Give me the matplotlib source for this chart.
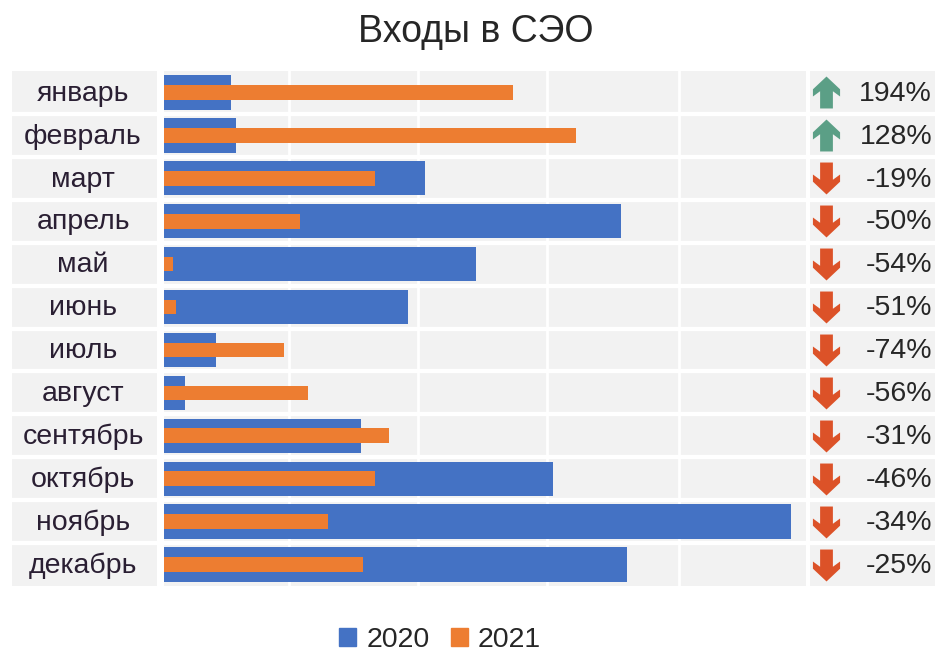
#!/usr/bin/env python3
"""Входы в СЭО: monthly bars, 2020 vs 2021, with change column."""

import matplotlib

matplotlib.use("Agg")
import matplotlib.pyplot as plt
import numpy as np
from matplotlib.path import Path

plt.rcParams["font.family"] = ["Liberation Sans", "DejaVu Sans"]

months = ["январь", "февраль", "март", "апрель", "май", "июнь",
          "июль", "август", "сентябрь", "октябрь", "ноябрь", "декабрь"]
values_2020 = [67, 72, 261, 457, 312, 244, 52, 21, 197, 389, 627, 463]
values_2021 = [349, 412, 211, 136, 9, 12, 120, 144, 225, 211, 164, 199]
changes = ["194%", "128%", "-19%", "-50%", "-54%", "-51%",
           "-74%", "-56%", "-31%", "-46%", "-34%", "-25%"]
grid_ticks = [125, 254, 383, 515]
series_years = ["2020", "2021"]

W, H = 939, 653
BLUE = "#4472c4"
ORANGE = "#ed7d31"
BAND = "#f2f2f2"
TEXT = "#262626"

ARROW_UP = Path([(0, 1), (0.85, 0.2), (0.85, -0.25), (0.4, 0.08), (0.4, -1),
                 (-0.4, -1), (-0.4, 0.08), (-0.85, -0.25), (-0.85, 0.2), (0, 1)], closed=True)
ARROW_DOWN = Path(ARROW_UP.vertices * [1, -1], closed=True)


def px_axes(fig, left, top, right, bottom):
    """Axes placed by pixel box of the reference image."""
    return fig.add_axes([left / W, 1 - bottom / H, (right - left) / W, (bottom - top) / H])


fig = plt.figure(figsize=(W / 100, H / 100), dpi=100, facecolor="white")
y = np.arange(len(months))

# Main bar panel
ax = px_axes(fig, 164, 71, 806, 586)
ax.set_facecolor(BAND)
ax.set_xlim(0, 642)
ax.set_ylim(len(months) - 0.5, -0.5)
for t in grid_ticks:
    ax.axvline(t, color="white", lw=2, zorder=1)
ax.barh(y, values_2020, height=0.8, color=BLUE, zorder=3)
ax.barh(y, values_2021, height=0.34, color=ORANGE, zorder=4)

# Month label column
ax_lab = px_axes(fig, 12, 71, 157, 586)
ax_lab.set_facecolor(BAND)
ax_lab.set_xlim(0, 1)
ax_lab.set_ylim(len(months) - 0.5, -0.5)
for i, m in enumerate(months):
    ax_lab.text(0.49, i + 0.03, m, ha="center", va="center", fontsize=20.5, color="#2a1f33")

# Change column with arrows
ax_chg = px_axes(fig, 810, 71, 935, 586)
ax_chg.set_facecolor(BAND)
ax_chg.set_xlim(0, 125)
ax_chg.set_ylim(len(months) - 0.5, -0.5)
for i, c in enumerate(changes):
    up = not c.startswith("-")
    ax_chg.plot(16, i, marker=ARROW_UP if up else ARROW_DOWN, ms=23, mew=0,
                color="#5b9f86" if up else "#dc5228")
    ax_chg.text(122, i + 0.03, c, ha="right", va="center", fontsize=20.5, color=TEXT)

for a in (ax, ax_lab, ax_chg):
    a.set_xticks([])
    a.set_yticks([])
    for s in a.spines.values():
        s.set_visible(False)
    # white separators between the rows
    for b in y[:-1] + 0.5:
        a.axhline(b, color="white", lw=3, zorder=2)

fig.text(476 / W, 1 - 32 / H, "Входы в СЭО", ha="center", va="center", fontsize=27, color=TEXT)

# Legend
handles = [plt.Rectangle((0, 0), 1, 1, color=BLUE), plt.Rectangle((0, 0), 1, 1, color=ORANGE)]
fig.legend(handles, series_years, loc="center", bbox_to_anchor=(440 / W, 1 - 640 / H),
           ncol=2, frameon=False, fontsize=20.5, handlelength=0.6, handleheight=0.6,
           handletextpad=0.35, columnspacing=0.75, borderpad=0, labelcolor=TEXT)

fig.savefig("out.png", dpi=100)
